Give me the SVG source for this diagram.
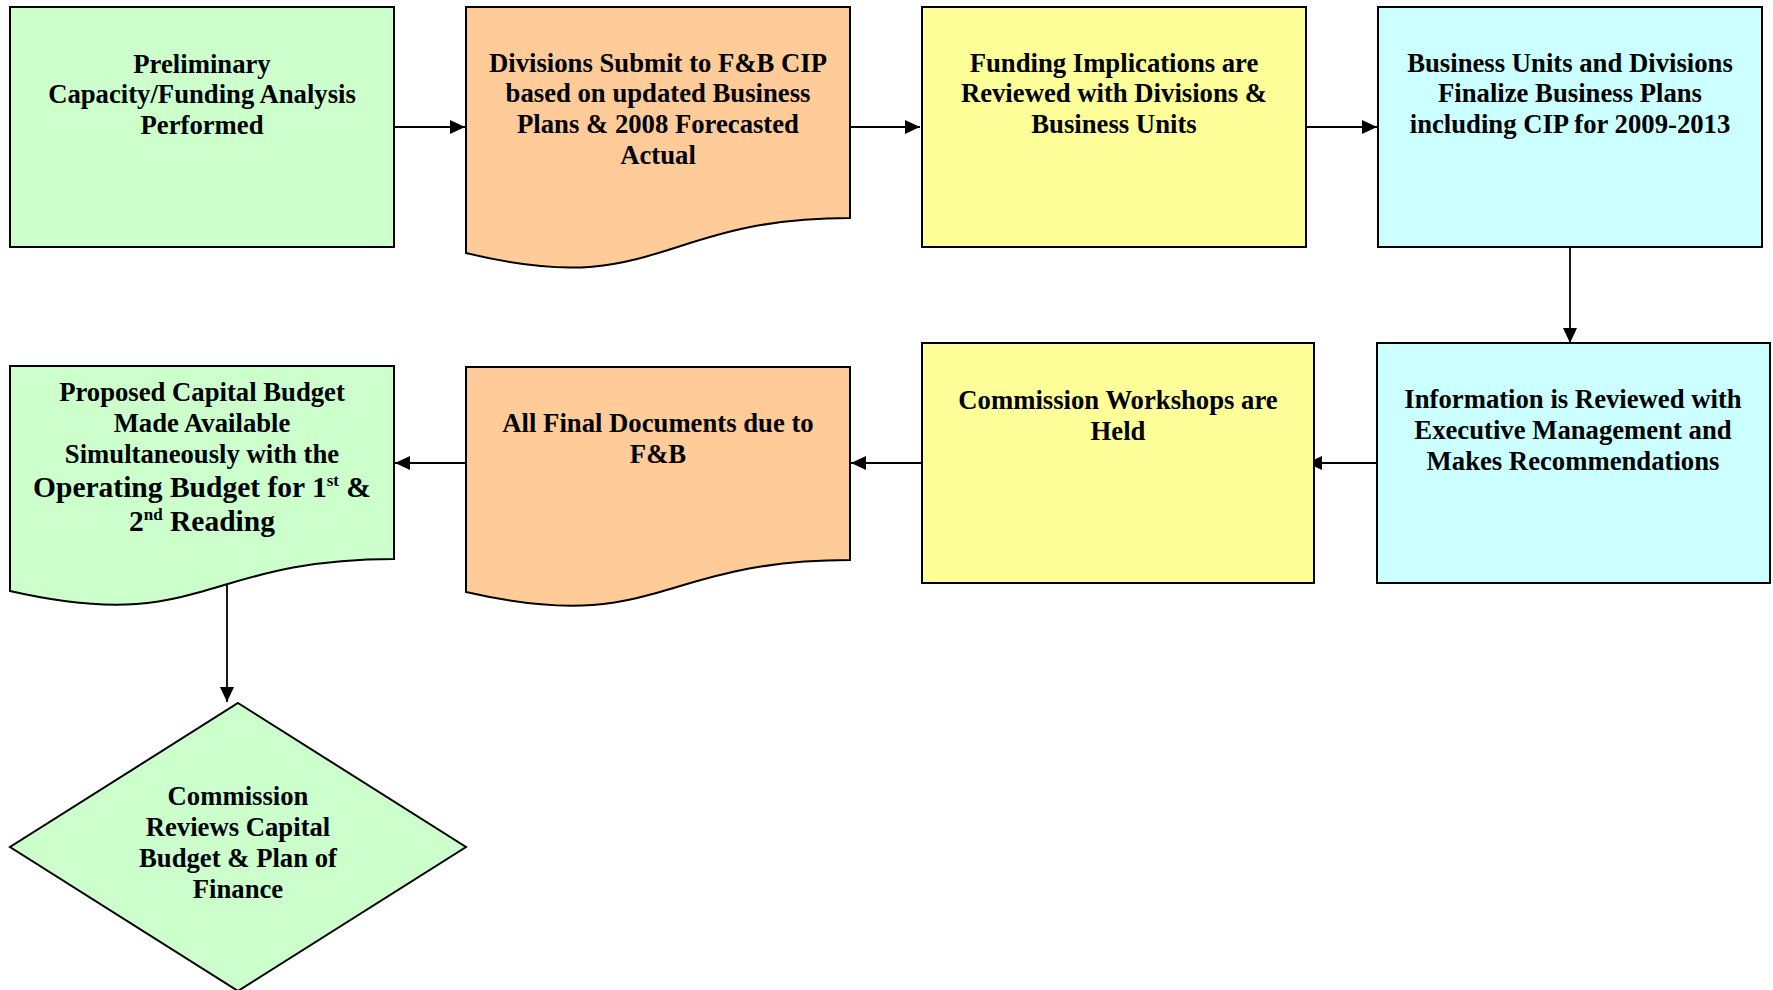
<svg xmlns="http://www.w3.org/2000/svg" width="1773" height="990" viewBox="0 0 1773 990">
<style>
.box{stroke:#000;stroke-width:2;}
.g{fill:#CCFFCC}.o{fill:#FFCC99}.y{fill:#FFFF99}.c{fill:#CCFFFF}
.t{font-family:"Liberation Serif","Times New Roman",serif;font-weight:bold;font-size:26.7px;fill:#000;text-anchor:middle}
.big{font-size:29.5px}
.sup{font-size:17px}
.conn{stroke:#000;stroke-width:1.8;fill:none}
</style>
<defs>
<marker id="arr" markerUnits="userSpaceOnUse" markerWidth="16" markerHeight="16" viewBox="0 0 16 16" refX="15" refY="8" orient="auto">
<path d="M0,1 L15,8 L0,15 Z" fill="#000"/>
</marker>
</defs>
<rect width="1773" height="990" fill="#fff"/>
<g id="connectors">
<path class="conn" d="M394,127 H465" marker-end="url(#arr)"/>
<path class="conn" d="M850,127 H920" marker-end="url(#arr)"/>
<path class="conn" d="M1306,127 H1377" marker-end="url(#arr)"/>
<path class="conn" d="M1570,246 V343" marker-end="url(#arr)"/>
<path class="conn" d="M1377,463 H1307" marker-end="url(#arr)"/>
<path class="conn" d="M922,463 H851" marker-end="url(#arr)"/>
<path class="conn" d="M466,463 H395" marker-end="url(#arr)"/>
<path class="conn" d="M227,583 V702" marker-end="url(#arr)"/>
</g>
<g id="n1">
<rect class="box g" x="10" y="7" width="384" height="240"/>
<text class="t"><tspan x="202" y="73">Preliminary</tspan><tspan x="202" y="103">Capacity/Funding Analysis</tspan><tspan x="202" y="134">Performed</tspan></text>
</g>
<g id="n2">
<path class="box o" d="M466,7 H850 V218 C658,218 658,300 466,253 Z"/>
<text class="t"><tspan x="658" y="72">Divisions Submit to F&amp;B CIP</tspan><tspan x="658" y="102">based on updated Business</tspan><tspan x="658" y="133">Plans &amp; 2008 Forecasted</tspan><tspan x="658" y="164">Actual</tspan></text>
</g>
<g id="n3">
<rect class="box y" x="922" y="7" width="384" height="240"/>
<text class="t"><tspan x="1114" y="72">Funding Implications are</tspan><tspan x="1114" y="102">Reviewed with Divisions &amp;</tspan><tspan x="1114" y="133">Business Units</tspan></text>
</g>
<g id="n4">
<rect class="box c" x="1378" y="7" width="384" height="240"/>
<text class="t"><tspan x="1570" y="72">Business Units and Divisions</tspan><tspan x="1570" y="102">Finalize Business Plans</tspan><tspan x="1570" y="133">including CIP for 2009-2013</tspan></text>
</g>
<g id="n5">
<rect class="box c" x="1377" y="343" width="393" height="240"/>
<text class="t"><tspan x="1573" y="408">Information is Reviewed with</tspan><tspan x="1573" y="439">Executive Management and</tspan><tspan x="1573" y="470">Makes Recommendations</tspan></text>
</g>
<g id="n6">
<rect class="box y" x="922" y="343" width="392" height="240"/>
<text class="t"><tspan x="1118" y="409">Commission Workshops are</tspan><tspan x="1118" y="440">Held</tspan></text>
</g>
<g id="n7">
<path class="box o" d="M466,367 H850 V560 C658,560 658,636 466,592 Z"/>
<text class="t"><tspan x="658" y="432">All Final Documents due to</tspan><tspan x="658" y="463">F&amp;B</tspan></text>
</g>
<g id="n8">
<path class="box g" d="M10,366 H394 V559 C202,559 202,635 10,591 Z"/>
<text class="t"><tspan x="202" y="401">Proposed Capital Budget</tspan><tspan x="202" y="432">Made Available</tspan><tspan x="202" y="463">Simultaneously with the</tspan></text>
<text class="t big" x="202" y="497">Operating Budget for 1<tspan class="sup" dy="-11">st</tspan><tspan dy="11"> &amp;</tspan></text>
<text class="t big" x="202" y="531">2<tspan class="sup" dy="-11">nd</tspan><tspan dy="11"> Reading</tspan></text>
</g>
<g id="n9">
<path class="box g" d="M238,703 L466,847 L238,991 L10,847 Z"/>
<text class="t"><tspan x="238" y="805">Commission</tspan><tspan x="238" y="836">Reviews Capital</tspan><tspan x="238" y="867">Budget &amp; Plan of</tspan><tspan x="238" y="898">Finance</tspan></text>
</g>
</svg>
